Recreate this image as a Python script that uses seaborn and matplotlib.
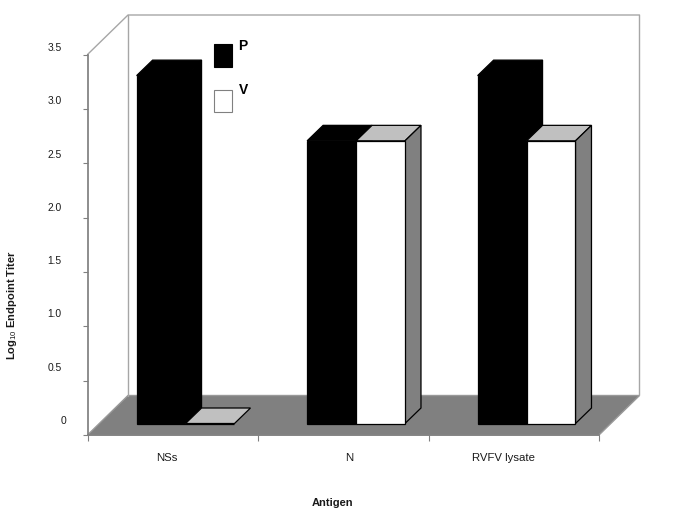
from __future__ import annotations

import matplotlib

matplotlib.use("Agg")
import matplotlib.pyplot as plt
import pandas as pd
import seaborn as sns
from matplotlib.patches import Polygon, Rectangle
from matplotlib.transforms import ScaledTranslation

antigens = ["NSs", "N", "RVFV lysate"]
p_titer = [3.2, 2.6, 3.2]
v_titer = [0.0, 2.6, 2.6]
y_ticks = [0, 0.5, 1.0, 1.5, 2.0, 2.5, 3.0, 3.5]
y_labels = ["0", "0.5", "1.0", "1.5", "2.0", "2.5", "3.0", "3.5"]

W, H, DPI = 685, 513, 100
PLANE = (87.5, 599.0, 435.0, 54.5)  # left, right, bottom, top of the front plane, px
FLOOR_DEPTH = (40.5, 39.5)
BAR_SHIFT = (12.8, 11.5)  # bars stand part way back on the floor
BAR_DEPTH = (16.0, 15.5)
LINE = "#808080"
TEXT = "#1a1a1a"


def px(fig, dx, dy):
    return ScaledTranslation(dx / DPI, dy / DPI, fig.dpi_scale_trans)


def main() -> None:
    sns.set_theme(style="white")
    plt.rcParams["font.family"] = ["Liberation Sans", "DejaVu Sans"]
    plt.rcParams["mathtext.fontset"] = "custom"
    plt.rcParams["mathtext.bf"] = "Liberation Sans:bold"
    plt.rcParams["mathtext.rm"] = "Liberation Sans"

    df = pd.DataFrame({
        "antigen": antigens * 2,
        "titer": p_titer + v_titer,
        "group": ["P"] * 3 + ["V"] * 3,
    })

    fig = plt.figure(figsize=(W / DPI, H / DPI), dpi=DPI)

    # pixel canvas for the walls and the floor
    bg = fig.add_axes([0, 0, 1, 1], zorder=0)
    bg.set_xlim(0, W)
    bg.set_ylim(H, 0)
    bg.axis("off")

    left, right, bottom, top = PLANE
    fx, fy = FLOOR_DEPTH
    bg.add_patch(Polygon(
        [(left, bottom), (left + fx, bottom - fy), (right + fx, bottom - fy), (right, bottom)],
        facecolor="#808080", edgecolor="#999999", lw=1,
    ))
    wall = "#a6a6a6"
    bg.plot([left, left + fx, right + fx, right + fx],
            [top, top - fy, top - fy, bottom - fy], color=wall, lw=1)
    bg.plot([left + fx, left + fx], [top - fy, bottom - fy], color=wall, lw=1)

    ax = fig.add_axes([left / W, 1 - bottom / H, (right - left) / W, (bottom - top) / H], zorder=1)
    ax.patch.set_alpha(0)
    sns.barplot(
        data=df, x="antigen", y="titer", hue="group", order=antigens,
        palette={"P": "black", "V": "white"}, width=0.574, gap=0,
        edgecolor="black", linewidth=0.9, legend=False, ax=ax, errorbar=None,
    )
    ax.set_xlim(-0.5, 2.5)
    ax.set_ylim(0, 3.5)

    # extrude every bar, back series first
    sx, sy = BAR_SHIFT
    dx, dy = BAR_DEPTH
    to_canvas = bg.transData.inverted()
    shift = px(fig, sx, sy)
    for i, container in enumerate(ax.containers):
        top_col, side_col = ("black", "black") if i == 0 else ("#c0c0c0", "#808080")
        base = 2 * i + 2
        for bar in container:
            x0, x1 = bar.get_x(), bar.get_x() + bar.get_width()
            h = bar.get_height()
            (ax0, ay0), (ax1, ay1) = to_canvas.transform(ax.transData.transform([(x0, h), (x1, 0)]))
            ax0, ax1 = ax0 + sx, ax1 + sx
            ay0, ay1 = ay0 - sy, ay1 - sy
            ax.add_patch(Polygon(
                [(ax0, ay0), (ax0 + dx, ay0 - dy), (ax1 + dx, ay0 - dy), (ax1, ay0)],
                facecolor=top_col, edgecolor="black", lw=0.9,
                transform=bg.transData, clip_on=False, zorder=base,
            ))
            if h > 0:
                ax.add_patch(Polygon(
                    [(ax1, ay0), (ax1 + dx, ay0 - dy), (ax1 + dx, ay1 - dy), (ax1, ay1)],
                    facecolor=side_col, edgecolor="black", lw=0.9,
                    transform=bg.transData, clip_on=False, zorder=base,
                ))
            bar.set_transform(ax.transData + shift)
            bar.set_clip_on(False)
            bar.set_zorder(base + 1)

    sns.despine(ax=ax)
    ax.spines["left"].set_color(LINE)
    ax.spines["bottom"].set_color(LINE)
    ax.spines["bottom"].set_zorder(0.5)

    ax.set_yticks(y_ticks)
    ax.set_yticklabels(y_labels)
    ax.tick_params(axis="y", which="major", left=True, length=3.6, width=0.8, color=LINE,
                   labelsize=7.4, labelcolor=TEXT, pad=15)
    for value, tick in zip(y_ticks, ax.yaxis.get_major_ticks()):
        # labels sit above their ticks and drift as in the source chart
        lift = 15 - 7.5 * value / 3.5
        nudge = 5 if value == 0 else 0
        tick.label1.set_transform(tick.label1.get_transform() + px(fig, nudge, lift))

    ax.set_xticks([0, 1, 2])
    ax.set_xticklabels(antigens)
    ax.set_xticks([-0.5, 0.5, 1.5, 2.5], minor=True)
    ax.tick_params(axis="x", which="major", bottom=False, labelsize=8.2, labelcolor=TEXT, pad=7)
    ax.tick_params(axis="x", which="minor", bottom=True, length=4.3, width=0.8, color=LINE)
    for nudge, tick in zip([-6, 6, -10.5], ax.xaxis.get_major_ticks()):
        tick.label1.set_transform(tick.label1.get_transform() + px(fig, nudge, 0))

    ax.set_xlabel("")
    ax.set_ylabel("")

    # legend placed by hand inside the back wall, as in the source
    bg.set_zorder(0)
    for y, color, edge, name, text_y in [(44, "black", "black", "P", 45.5), (89.5, "white", "#808080", "V", 90)]:
        ax.add_patch(Rectangle((214, y), 18.5, 22.5, facecolor=color, edgecolor=edge, lw=0.8,
                               transform=bg.transData, clip_on=False, zorder=20))
        ax.text(238.5, text_y, name, transform=bg.transData, fontsize=10, fontweight="bold",
                color="black", ha="left", va="center", zorder=20)

    fig.text(333 / W, 1 - 502.5 / H, "Antigen", fontsize=8, fontweight="bold",
             color=TEXT, ha="center", va="center")
    fig.text(12 / W, 1 - 305 / H, r"$\mathbf{Log}_{\mathrm{10}}$ Endpoint Titer", fontsize=8,
             fontweight="bold", color=TEXT, rotation=90, ha="center", va="center")

    fig.savefig("out.png", dpi=DPI, facecolor="white")
    plt.close(fig)


if __name__ == "__main__":
    main()
